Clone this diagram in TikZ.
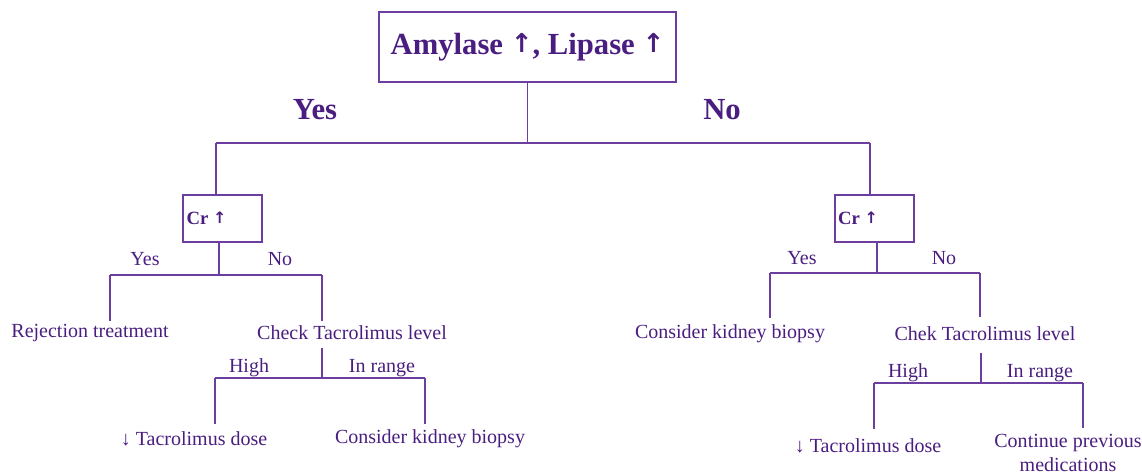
\documentclass[tikz,border=0pt]{standalone}
\usepackage{fontspec}
\setmainfont{Liberation Serif}
\newfontfamily\arrowfont{DejaVu Sans}
\newcommand{\bup}{{\arrowfont\bfseries\raisebox{0.05em}{\scalebox{0.85}{↑}}}}
\definecolor{txt}{RGB}{74,30,128}
\definecolor{ln}{RGB}{108,62,160}
\begin{document}
\begin{tikzpicture}[x=0.75pt,y=-0.75pt,
  line width=1.3pt,
  conn/.style={draw=ln,line width=1.3pt},
  bigbox/.style={draw=ln,line width=1.5pt,text=txt,font=\bfseries\fontsize{23}{27}\selectfont,minimum width=297*0.75pt,minimum height=70*0.75pt,inner sep=0pt},
  crbox/.style={draw=ln,line width=1.5pt,text=txt,font=\bfseries\fontsize{14}{17}\selectfont,minimum width=79*0.75pt,minimum height=47*0.75pt,inner sep=0pt},
  biglbl/.style={text=txt,font=\bfseries\fontsize{23}{27}\selectfont,inner sep=0pt},
  lbl/.style={text=txt,font=\fontsize{15}{17}\selectfont,inner sep=0pt},
  leaf/.style={text=txt,font=\fontsize{15}{17.5}\selectfont,inner sep=0pt,align=center}]
\useasboundingbox (0,0) rectangle (1142,475);
% top
\node[bigbox] (top) at (527.5,47) {Amylase \bup, Lipase \bup};
\node[biglbl] (yes0) at (315,110) {Yes};
\node[biglbl] (no0) at (722,110) {No};
\coordinate (j0) at (527.5,143);
\coordinate (j0l) at (216,143);
\coordinate (j0r) at (870,143);
\node[crbox] (crL) at (222.5,218.5) {\raisebox{-2pt}{\hspace*{-24pt}Cr \bup}};
\node[crbox] (crR) at (874,218.5) {\raisebox{-2pt}{\hspace*{-24pt}Cr \bup}};
\draw[conn] (top.south) -- (j0);
\draw[conn] (j0l) -- (j0r);
\draw[conn] (j0l) -- (crL.north -| j0l);
\draw[conn] (j0r) -- (crR.north -| j0r);
% left Cr branch
\coordinate (jL) at (219,275);
\coordinate (jLa) at (110,275);
\coordinate (jLb) at (322,275);
\node[lbl] (yesL) at (145,259) {Yes};
\node[lbl] (noL) at (280,259) {No};
\node[leaf] (rej) at (90,333) {Rejection treatment};
\node[leaf] (chkL) at (352,333) {Check Tacrolimus level};
\draw[conn] (crL.south -| jL) -- (jL);
\draw[conn] (jLa) -- (jLb);
\draw[conn] (jLa) -- (110,321);
\draw[conn] (jLb) -- (322,321);
\coordinate (kL) at (322,378);
\coordinate (kLa) at (215,378);
\coordinate (kLb) at (425,378);
\node[lbl] (highL) at (249,368) {High};
\node[lbl] (rngL) at (382,368) {In range};
\node[leaf] (decL) at (194,439) {↓ Tacrolimus dose};
\node[leaf] (bioL) at (430,439) {Consider kidney biopsy};
\draw[conn] (322,348) -- (kL);
\draw[conn] (kLa) -- (kLb);
\draw[conn] (kLa) -- (215,424);
\draw[conn] (kLb) -- (425,424);
% right Cr branch
\coordinate (jR) at (877,273);
\coordinate (jRa) at (770,273);
\coordinate (jRb) at (980,273);
\node[lbl] (yesR) at (802,258) {Yes};
\node[lbl] (noR) at (944,258) {No};
\node[leaf] (bioR) at (730,334) {Consider kidney biopsy};
\node[leaf] (chkR) at (985,334) {Chek Tacrolimus level};
\draw[conn] (crR.south -| jR) -- (jR);
\draw[conn] (jRa) -- (jRb);
\draw[conn] (jRa) -- (770,318);
\draw[conn] (jRb) -- (980,317);
\coordinate (kR) at (981,383);
\coordinate (kRa) at (874,383);
\coordinate (kRb) at (1083,383);
\node[lbl] (highR) at (908,373) {High};
\node[lbl] (rngR) at (1040,373) {In range};
\node[leaf] (decR) at (868,446) {↓ Tacrolimus dose};
\node[leaf] (contR) at (1068,453) {Continue previous\\medications};
\draw[conn] (981,353) -- (kR);
\draw[conn] (kRa) -- (kRb);
\draw[conn] (kRa) -- (874,429);
\draw[conn] (kRb) -- (1083,428);
\end{tikzpicture}
\end{document}
